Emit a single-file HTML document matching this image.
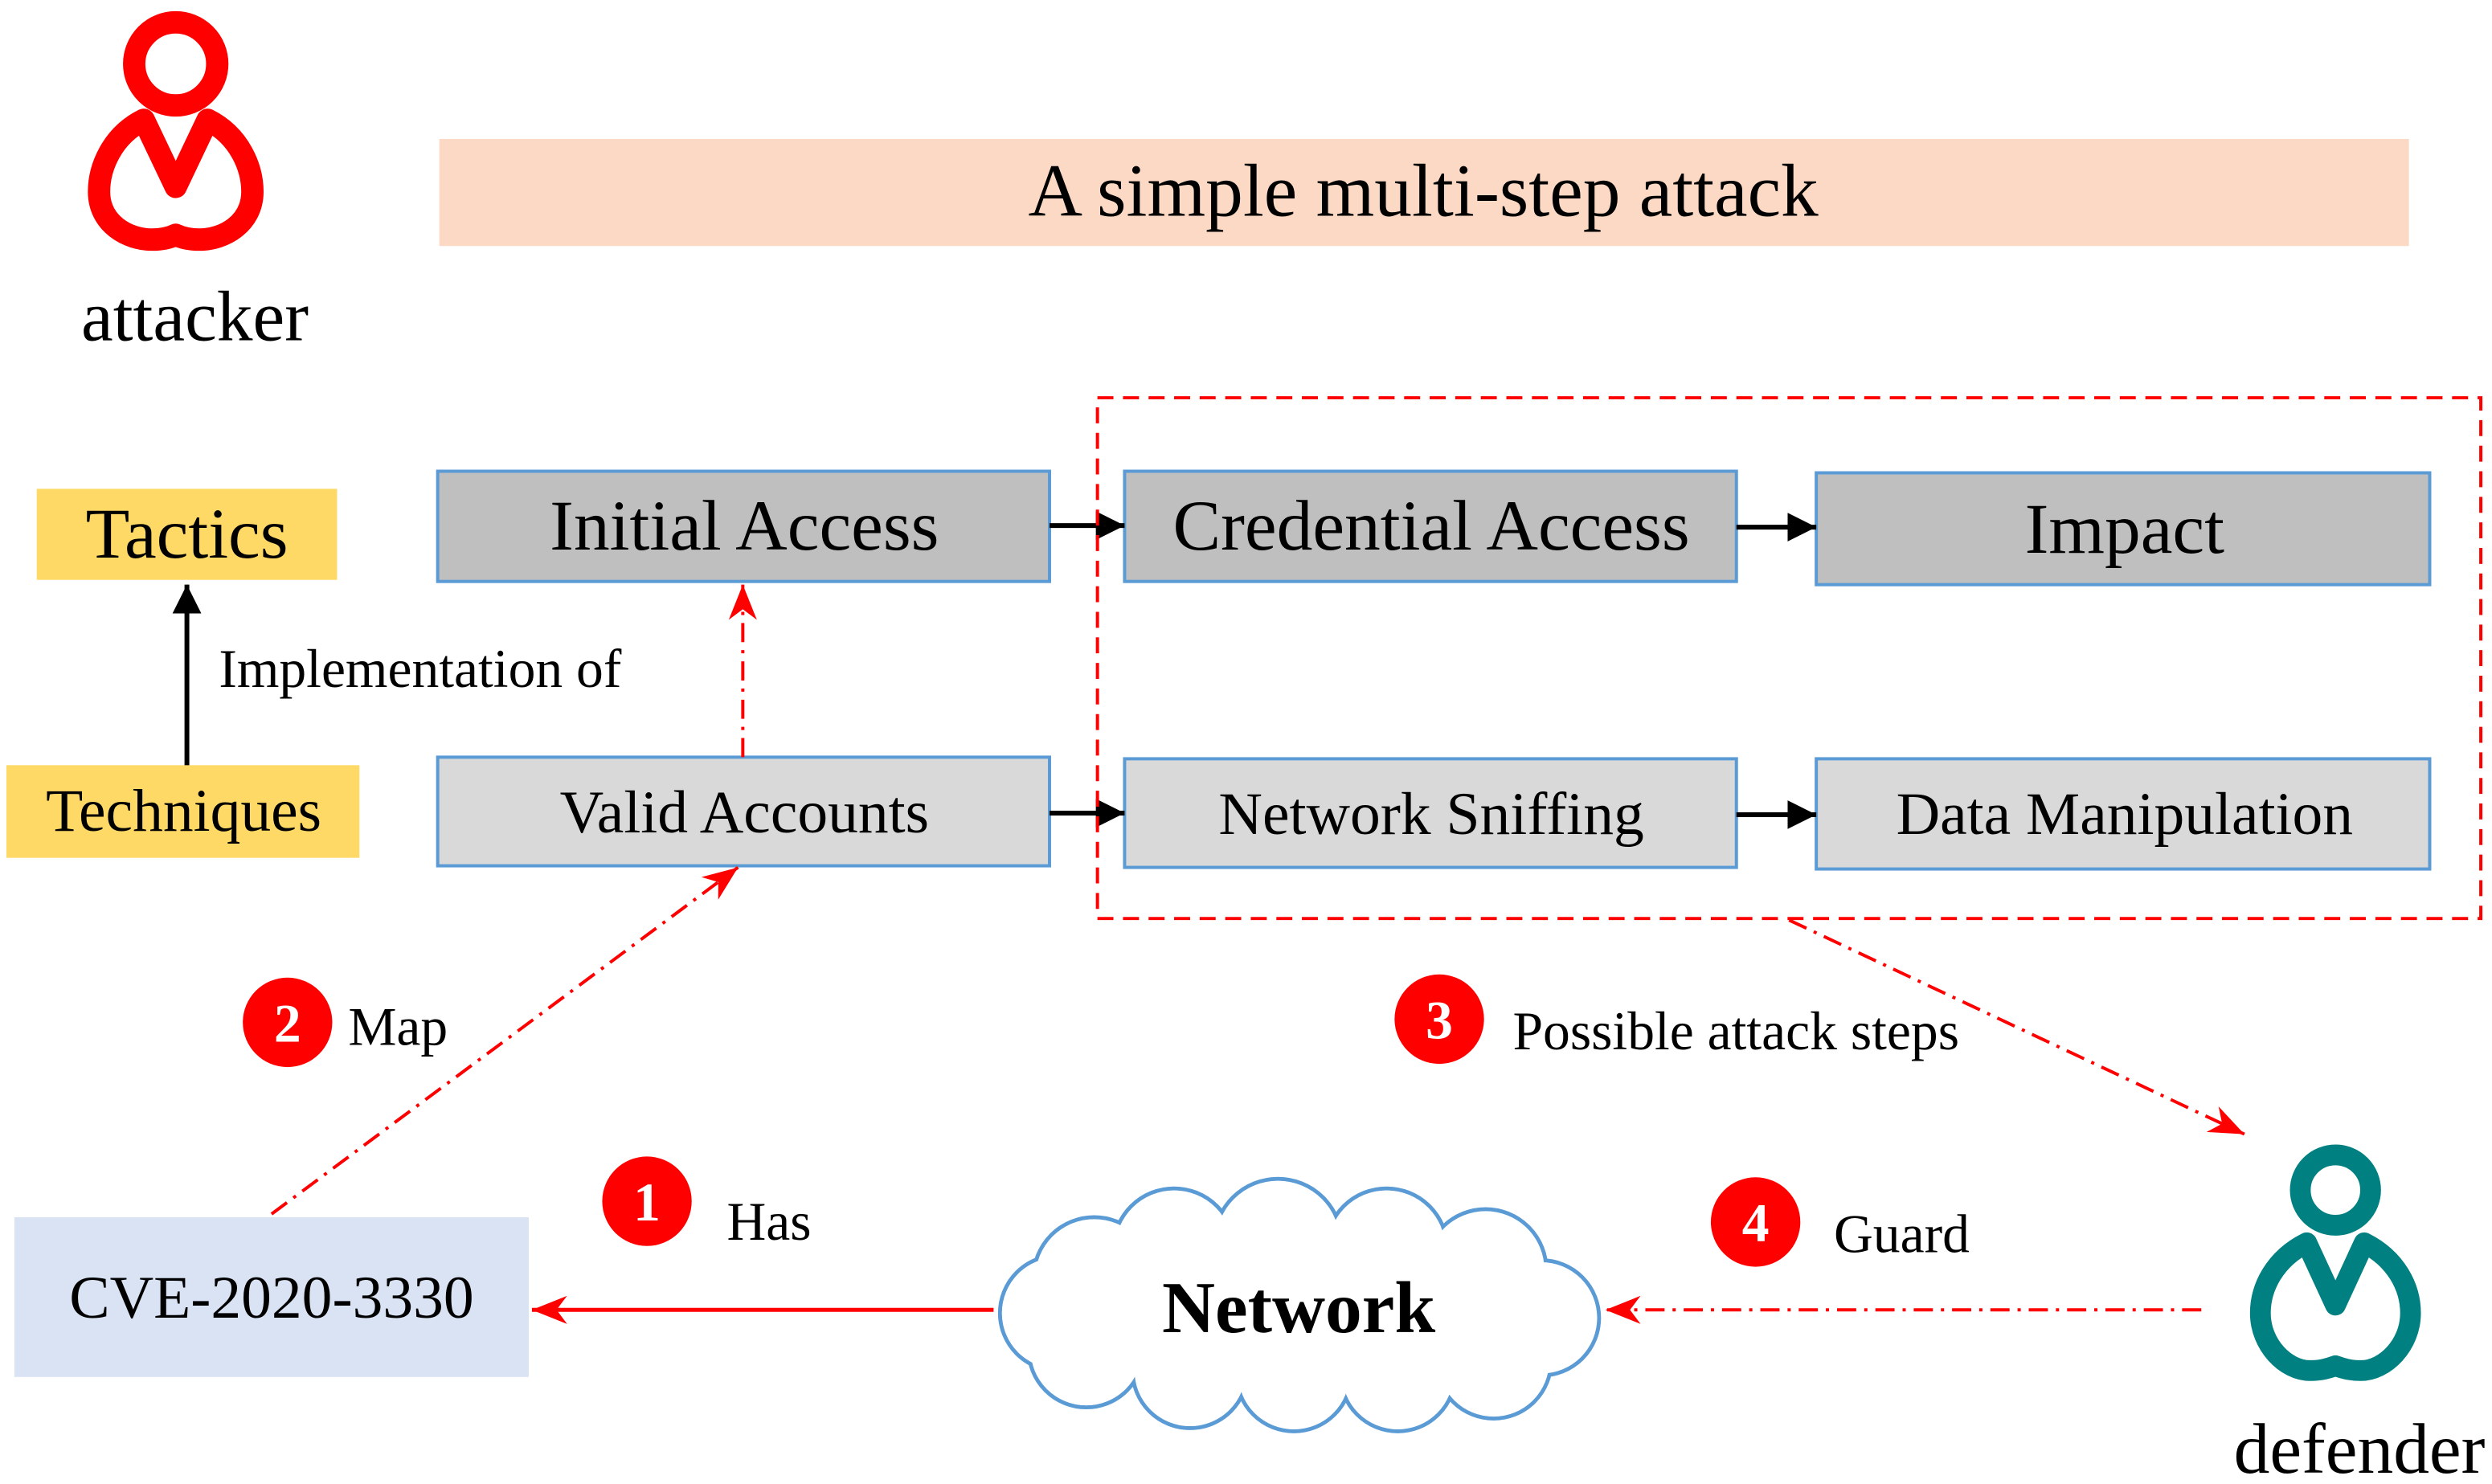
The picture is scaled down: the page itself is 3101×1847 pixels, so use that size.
<!DOCTYPE html>
<html><head><meta charset="utf-8"><style>
html,body{margin:0;padding:0;background:#fff;}
svg{display:block;}
text{font-family:"Liberation Serif",serif;fill:#000;}
</style></head><body>
<svg width="3101" height="1847" viewBox="0 0 1560 929" preserveAspectRatio="none" xmlns="http://www.w3.org/2000/svg">
<defs>
<marker id="bk" viewBox="0 0 10 10" markerWidth="18" markerHeight="18" refX="10" refY="5" orient="auto" markerUnits="userSpaceOnUse"><path d="M0,0 L10,5 L0,10 Z" fill="#000"/></marker>
<marker id="rd" viewBox="0 0 10 10" markerWidth="22" markerHeight="22" refX="10" refY="5" orient="auto" markerUnits="userSpaceOnUse"><path d="M0,1 L10,5 L0,9 L3,5 Z" fill="#f00"/></marker>
</defs>
<circle cx="110" cy="40" r="26" fill="none" stroke="#f00" stroke-width="14"/>
<path d="M90,75 L110,117 L130,75 C150,85 158,105 158,120 C158,140 140,150 125,150 C117,150 112,148 110,147 C108,148 103,150 95,150 C80,150 62,140 62,120 C62,105 70,85 90,75 Z" fill="none" stroke="#f00" stroke-width="14" stroke-linejoin="round"/>
<text x="122" y="213" font-size="45" text-anchor="middle">attacker</text>
<rect x="275" y="87" width="1233" height="67" fill="#fcd9c4"/>
<text x="891" y="135" font-size="47" text-anchor="middle">A simple multi-step attack</text>
<rect x="23" y="306" width="188" height="57" fill="#ffd966"/>
<text x="117" y="349" font-size="45" text-anchor="middle">Tactics</text>
<rect x="4" y="479" width="221" height="58" fill="#ffd966"/>
<text x="115" y="520" font-size="38" text-anchor="middle">Techniques</text>
<line x1="117" y1="479" x2="117" y2="366" stroke="#000" stroke-width="3" marker-end="url(#bk)"/>
<text x="137" y="430" font-size="34">Implementation of</text>
<g stroke="#5b9bd5" stroke-width="2">
<rect x="274" y="295" width="383" height="69" fill="#bfbfbf"/>
<rect x="704" y="295" width="383" height="69" fill="#bfbfbf"/>
<rect x="1137" y="296" width="384" height="70" fill="#bfbfbf"/>
<rect x="274" y="474" width="383" height="68" fill="#d9d9d9"/>
<rect x="704" y="475" width="383" height="68" fill="#d9d9d9"/>
<rect x="1137" y="475" width="384" height="69" fill="#d9d9d9"/>
</g>
<text x="466" y="344" font-size="45" text-anchor="middle">Initial Access</text>
<text x="896" y="344" font-size="45" text-anchor="middle">Credential Access</text>
<text x="1330" y="346" font-size="45" text-anchor="middle">Impact</text>
<text x="466" y="521" font-size="38" text-anchor="middle">Valid Accounts</text>
<text x="896" y="522" font-size="38" text-anchor="middle">Network Sniffing</text>
<text x="1330" y="522" font-size="38" text-anchor="middle">Data Manipulation</text>
<g stroke="#000" stroke-width="3">
<line x1="657" y1="329" x2="704" y2="329" marker-end="url(#bk)"/>
<line x1="1087" y1="330" x2="1137" y2="330" marker-end="url(#bk)"/>
<line x1="657" y1="509" x2="704" y2="509" marker-end="url(#bk)"/>
<line x1="1087" y1="510" x2="1137" y2="510" marker-end="url(#bk)"/>
</g>
<rect x="687" y="249" width="866" height="326" fill="none" stroke="#f00" stroke-width="2" stroke-dasharray="10,6"/>
<g stroke="#f00" stroke-width="2" stroke-dasharray="12,5,2,5" fill="none">
<line x1="465" y1="474" x2="465" y2="366" marker-end="url(#rd)"/>
<line x1="170" y1="760" x2="462" y2="543" marker-end="url(#rd)"/>
<line x1="1120" y1="576" x2="1405" y2="710" marker-end="url(#rd)"/>
<line x1="1378" y1="820" x2="1005" y2="820" marker-end="url(#rd)"/>
</g>
<line x1="622" y1="820" x2="333" y2="820" stroke="#f00" stroke-width="2.5" marker-end="url(#rd)"/>
<g font-size="34" font-weight="bold" text-anchor="middle">
<circle cx="180" cy="640" r="28" fill="#f00"/><text x="180" y="652" style="fill:#fff">2</text>
<circle cx="901" cy="638" r="28" fill="#f00"/><text x="901" y="650" style="fill:#fff">3</text>
<circle cx="405" cy="752" r="28" fill="#f00"/><text x="405" y="764" style="fill:#fff">1</text>
<circle cx="1099" cy="765" r="28" fill="#f00"/><text x="1099" y="777" style="fill:#fff">4</text>
</g>
<text x="218" y="654" font-size="34">Map</text>
<text x="947" y="657" font-size="34">Possible attack steps</text>
<text x="455" y="776" font-size="34">Has</text>
<text x="1148" y="784" font-size="34">Guard</text>
<rect x="9" y="762" width="322" height="100" fill="#dae3f3"/>
<text x="170" y="825" font-size="38" text-anchor="middle">CVE-2020-3330</text>
<g stroke="#5b9bd5" stroke-width="2.5" fill="#fff">
<circle cx="685" cy="800" r="38"/><circle cx="735" cy="782" r="38"/><circle cx="800" cy="778" r="40"/>
<circle cx="868" cy="782" r="38"/><circle cx="930" cy="795" r="38"/><circle cx="965" cy="825" r="36"/>
<circle cx="935" cy="852" r="36"/><circle cx="875" cy="860" r="36"/><circle cx="810" cy="860" r="36"/>
<circle cx="745" cy="858" r="36"/><circle cx="680" cy="845" r="36"/><circle cx="662" cy="822" r="36"/>
</g>
<g fill="#fff">
<circle cx="685" cy="800" r="36.8"/><circle cx="735" cy="782" r="36.8"/><circle cx="800" cy="778" r="38.8"/>
<circle cx="868" cy="782" r="36.8"/><circle cx="930" cy="795" r="36.8"/><circle cx="965" cy="825" r="34.8"/>
<circle cx="935" cy="852" r="34.8"/><circle cx="875" cy="860" r="34.8"/><circle cx="810" cy="860" r="34.8"/>
<circle cx="745" cy="858" r="34.8"/><circle cx="680" cy="845" r="34.8"/><circle cx="662" cy="822" r="34.8"/>
<ellipse cx="812" cy="818" rx="150" ry="52"/>
</g>
<text x="813" y="834" font-size="46" font-weight="bold" text-anchor="middle">Network</text>
<circle cx="1462" cy="745" r="22" fill="none" stroke="#008080" stroke-width="13"/>
<path d="M1444,778 L1462,817 L1480,778 C1500,788 1509,806 1509,822 C1509,842 1493,858 1478,858 C1470,858 1465,856 1462,855 C1459,856 1454,858 1446,858 C1431,858 1415,842 1415,822 C1415,806 1424,788 1444,778 Z" fill="none" stroke="#008080" stroke-width="13" stroke-linejoin="round"/>
<text x="1477" y="922" font-size="45" text-anchor="middle">defender</text>
</svg>
</body></html>
